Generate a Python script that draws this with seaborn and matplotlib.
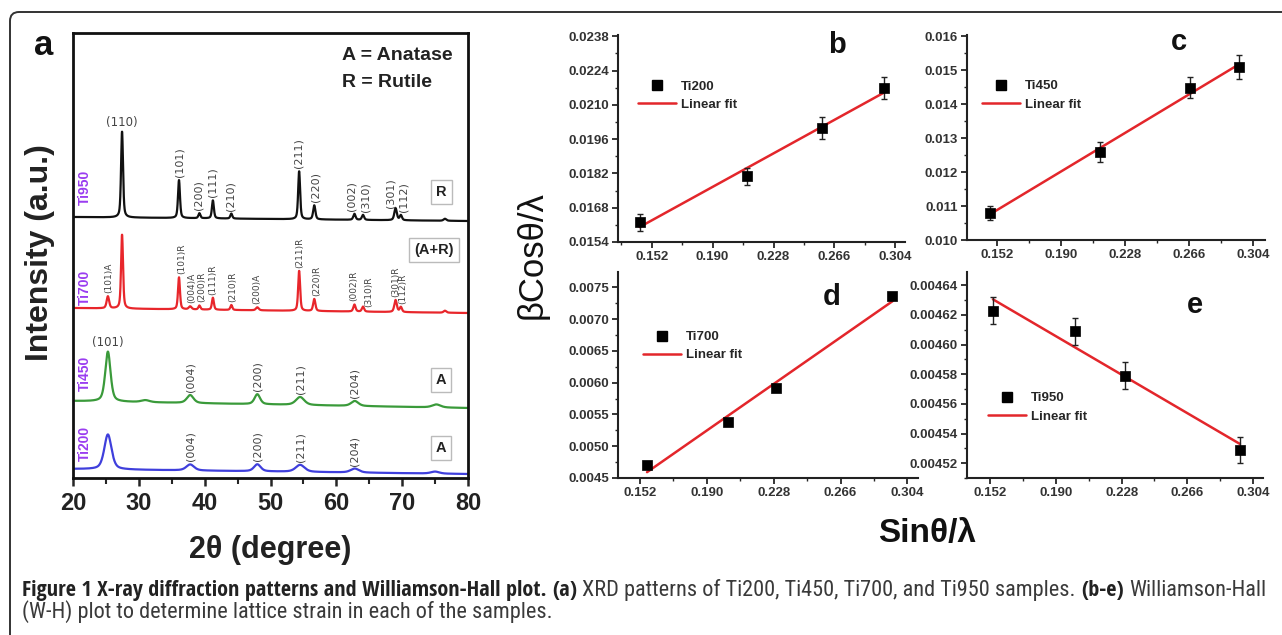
import numpy as np
import pandas as pd
import matplotlib
matplotlib.use("Agg")
import matplotlib.pyplot as plt
import seaborn as sns
from matplotlib.lines import Line2D
from matplotlib.patches import FancyBboxPatch
from matplotlib.ticker import MultipleLocator
from matplotlib import font_manager

# ------------------------------------------------------------------ data
# Panel a: XRD peak lists (2theta, height, FWHM)
samples = ["Ti200", "Ti450", "Ti700", "Ti950"]
sample_colors = ["#3f3fdc", "#3a9a3a", "#e8262b", "#111111"]
baseline_start = [9, 77, 170, 261]
baseline_end = [4, 70, 165, 257]

ti200_pos = [25.3, 37.8, 48.0, 54.5, 62.8, 75.0]
ti200_height = [35, 6, 7, 7, 4, 2]
ti200_width = [1.3, 1.4, 1.2, 1.6, 1.5, 1.5]

ti450_pos = [25.3, 31.0, 37.8, 48.0, 54.5, 62.8, 75.2]
ti450_height = [50, 2, 8, 10, 8, 5, 3]
ti450_width = [0.95, 1.5, 1.2, 1.0, 1.5, 1.3, 1.5]

ti700_pos = [25.3, 27.45, 36.1, 37.8, 39.2, 41.25, 44.05, 48.0, 54.35, 56.65, 62.75, 64.05, 69.0, 69.8, 76.5]
ti700_height = [12, 74, 32, 3, 4, 12, 5, 3, 40, 12, 7, 5, 12, 5, 2]
ti700_width = [0.45, 0.35, 0.35, 0.5, 0.35, 0.35, 0.35, 0.5, 0.35, 0.4, 0.4, 0.4, 0.45, 0.4, 0.5]

ti950_pos = [27.45, 36.1, 39.2, 41.25, 44.05, 54.35, 56.65, 62.75, 64.05, 69.0, 69.8, 76.5]
ti950_height = [86, 38, 5, 18, 5, 48, 14, 6, 5, 12, 5, 2]
ti950_width = [0.35, 0.35, 0.35, 0.35, 0.35, 0.35, 0.4, 0.4, 0.4, 0.45, 0.4, 0.5]

# peak annotations (x position, text, rotation)
ti950_lab_x = [27.4, 36.2, 39.0, 41.2, 44.0, 54.2, 56.8, 62.3, 64.4, 68.3, 70.2]
ti950_lab_t = ["(110)", "(101)", "(200)", "(111)", "(210)", "(211)", "(220)", "(002)", "(310)", "(301)", "(112)"]
ti950_lab_r = [0, 90, 90, 90, 90, 90, 90, 90, 90, 90, 90]

ti700_lab_x = [25.5, 36.5, 38.1, 39.6, 41.2, 44.2, 47.9, 54.5, 57.1, 62.6, 64.9, 69.0, 70.1]
ti700_lab_t = ["(101)A", "(101)R", "(004)A", "(200)R", "(111)R", "(210)R", "(200)A", "(211)R",
               "(220)R", "(002)R", "(310)R", "(301)R", "(112)R"]

ti450_lab_x = [25.3, 37.9, 48.1, 54.6, 62.8]
ti450_lab_t = ["(101)", "(004)", "(200)", "(211)", "(204)"]
ti450_lab_r = [0, 90, 90, 90, 90]

ti200_lab_x = [37.9, 48.1, 54.6, 62.8]
ti200_lab_t = ["(004)", "(200)", "(211)", "(204)"]

phase_text = ["A", "A", "(A+R)", "R"]
xrd_xticks = [20, 30, 40, 50, 60, 70, 80]

# Panels b-e: Williamson-Hall points
wh_names = ["Ti200", "Ti450", "Ti700", "Ti950"]
b_x = [0.1445, 0.2112, 0.2585, 0.2972]
b_y = [0.01621, 0.01808, 0.02007, 0.02169]
b_err = [0.00035, 0.00035, 0.00045, 0.00045]
c_x = [0.1478, 0.2132, 0.2666, 0.2957]
c_y = [0.01080, 0.01258, 0.01448, 0.01509]
c_err = [0.0002, 0.0003, 0.0003, 0.00035]
d_x = [0.1560, 0.2019, 0.2291, 0.2955]
d_y = [0.00470, 0.00538, 0.00591, 0.00736]
d_err = [0.00004, 0.00004, 0.00004, 0.00004]
e_x = [0.1537, 0.2011, 0.2300, 0.2964]
e_y = [0.004623, 0.004609, 0.004579, 0.004529]
e_err = [0.000009, 0.000009, 0.000009, 0.000009]

wh_xticks = [0.152, 0.190, 0.228, 0.266, 0.304]
wh_xticklabels = ["0.152", "0.190", "0.228", "0.266", "0.304"]
b_yticks = [0.0154, 0.0168, 0.0182, 0.0196, 0.0210, 0.0224, 0.0238]
c_yticks = [0.010, 0.011, 0.012, 0.013, 0.014, 0.015, 0.016]
d_yticks = [0.0045, 0.0050, 0.0055, 0.0060, 0.0065, 0.0070, 0.0075]
e_yticks = [0.00452, 0.00454, 0.00456, 0.00458, 0.00460, 0.00462, 0.00464]
b_yfmt, c_yfmt, d_yfmt, e_yfmt = "{:.4f}", "{:.3f}", "{:.4f}", "{:.5f}"

caption_title = "Figure 1 X-ray diffraction patterns and Williamson-Hall plot."
caption_a = "XRD patterns of Ti200, Ti450, Ti700, and Ti950 samples."
caption_be1 = "Williamson-Hall"
caption_be2 = "(W-H) plot to determine lattice strain in each of the samples."

# ------------------------------------------------------------------ style
sns.set_style("ticks")
plt.rcParams["font.family"] = ["Liberation Sans", "DejaVu Sans"]
plt.rcParams["axes.edgecolor"] = "#111111"

W, H, DPI = 1282, 635, 100
fig = plt.figure(figsize=(W / DPI, H / DPI), dpi=DPI)
fig.patch.set_facecolor("white")
RED = "#e3262b"
PURPLE = "#9a3cf0"


def px_rect(l, t, r, b):
    return [l / W, 1 - b / H, (r - l) / W, (b - t) / H]


def fx(px):
    return px / W


def fy(py):
    return 1 - py / H


# outer rounded frame
frame = FancyBboxPatch((0.10, -0.3), 13.2, 6.23 + 0.3,
                       boxstyle="round,pad=0,rounding_size=0.09",
                       transform=fig.dpi_scale_trans, fill=False,
                       ec="#333333", lw=1.4, zorder=0)
fig.patches.append(frame)

# ------------------------------------------------------------------ panel a
axa = fig.add_axes(px_rect(73, 33, 468, 478))
grid = np.linspace(20, 80, 3001)


def pattern(pos, hgt, wid, b0, b1):
    y = b0 + (b1 - b0) * (grid - 20) / 60.0
    for c, h, w in zip(pos, hgt, wid):
        d = (grid - c) / (w / 2.0)
        y = y + h * (0.5 / (1 + d ** 2) + 0.5 * np.exp(-np.log(2) * d ** 2))
    return y


peak_sets = [(ti200_pos, ti200_height, ti200_width),
             (ti450_pos, ti450_height, ti450_width),
             (ti700_pos, ti700_height, ti700_width),
             (ti950_pos, ti950_height, ti950_width)]
curves = {}
frames = []
for i, s in enumerate(samples):
    p, h, w = peak_sets[i]
    yy = pattern(p, h, w, baseline_start[i], baseline_end[i])
    curves[s] = yy
    frames.append(pd.DataFrame({"two_theta": grid, "intensity": yy, "sample": s}))
xrd = pd.concat(frames, ignore_index=True)
sns.lineplot(data=xrd, x="two_theta", y="intensity", hue="sample",
             palette=dict(zip(samples, sample_colors)), estimator=None,
             legend=False, lw=1.6, ax=axa)

axa.set_xlim(20, 80)
axa.set_ylim(0, 445)
axa.set_yticks([])
axa.set_xticks(xrd_xticks)
axa.xaxis.set_minor_locator(MultipleLocator(5))
axa.set_xticklabels([str(v) for v in xrd_xticks], fontsize=17, fontweight="bold", color="#222222")
axa.tick_params(axis="x", which="major", direction="out", length=6, width=1.8, pad=4)
axa.tick_params(axis="x", which="minor", direction="out", length=4, width=1.5)
for sp in axa.spines.values():
    sp.set_linewidth(2.0)
    sp.set_color("#111111")
axa.set_xlabel("")
axa.set_ylabel("")


def local_max(s, x, half=0.6):
    m = np.abs(grid - x) <= half
    return curves[s][m].max()


def annotate(s, xs, ts, rs, fs):
    for x, t, r in zip(xs, ts, rs):
        top = local_max(s, x)
        axa.text(x, top + 3, t, rotation=r, ha="center", va="bottom",
                 fontsize=fs + (0.5 if r == 0 else 0), color="#444444",
                 family=["DejaVu Sans"])


annotate("Ti950", ti950_lab_x, ti950_lab_t, ti950_lab_r, 8)
annotate("Ti700", ti700_lab_x, ti700_lab_t, [90] * len(ti700_lab_t), 6.5)
annotate("Ti450", ti450_lab_x, ti450_lab_t, ti450_lab_r, 8)
annotate("Ti200", ti200_lab_x, ti200_lab_t, [90] * len(ti200_lab_t), 8)

# sample names (rotated, purple) and phase boxes
name_y = [35, 105, 191, 291]
box_y = [30, 98, 228, 286]
box_x = [75.9, 75.9, 74.8, 76.0]
for i, s in enumerate(samples):
    axa.text(21.8, name_y[i], s, rotation=90, ha="center", va="center",
             fontsize=10, fontweight="bold", color=PURPLE)
    axa.text(box_x[i], box_y[i], phase_text[i], ha="center", va="center",
             fontsize=10.5, fontweight="bold", color="#222222",
             bbox=dict(boxstyle="square,pad=0.35", fc="white", ec="#bbbbbb", lw=1.0))

fig.text(fx(342), fy(60), "A = Anatase", fontsize=14, fontweight="bold",
         ha="left", va="baseline", color="#222222")
fig.text(fx(342), fy(87), "R = Rutile", fontsize=14, fontweight="bold",
         ha="left", va="baseline", color="#222222")
fig.text(fx(44), fy(55), "a", fontsize=25, fontweight="bold", ha="center",
         va="baseline", color="#111111")
fig.text(fx(40), fy(253), "Intensity (a.u.)", fontsize=23, fontweight="bold",
         rotation=90, ha="center", va="center", color="#222222")
fig.text(fx(270), fy(558), "2θ (degree)", fontsize=22, fontweight="bold",
         ha="center", va="baseline", color="#222222")

# ------------------------------------------------------------------ panels b-e
panel_specs = [
    dict(rect=(618, 35, 905, 242), x=b_x, y=b_y, err=b_err, name=wh_names[0],
         xlim=(0.131, 0.310), ylim=(0.0154, 0.02385), yticks=b_yticks, fmt=b_yfmt,
         yminor=0.0007, letter="b", lpos=(837, 53), leg=(0.07, 0.78)),
    dict(rect=(967, 35, 1265, 240), x=c_x, y=c_y, err=c_err, name=wh_names[1],
         xlim=(0.134, 0.311), ylim=(0.010, 0.01603), yticks=c_yticks, fmt=c_yfmt,
         yminor=0.0005, letter="c", lpos=(1179, 50), leg=(0.05, 0.78)),
    dict(rect=(618, 272, 918, 478), x=d_x, y=d_y, err=d_err, name=wh_names[2],
         xlim=(0.1395, 0.310), ylim=(0.0045, 0.00774), yticks=d_yticks, fmt=d_yfmt,
         yminor=0.00025, letter="d", lpos=(832, 305), leg=(0.083, 0.714)),
    dict(rect=(967, 272, 1263, 478), x=e_x, y=e_y, err=e_err, name=wh_names[3],
         xlim=(0.1387, 0.3097), ylim=(0.00451, 0.004649), yticks=e_yticks, fmt=e_yfmt,
         yminor=0.00001, letter="e", lpos=(1195, 313), leg=(0.071, 0.417)),
]

for sp_ in panel_specs:
    ax = fig.add_axes(px_rect(*sp_["rect"]))
    ax.set_facecolor("white")
    sns.regplot(x=np.array(sp_["x"]), y=np.array(sp_["y"]), ax=ax, scatter=False,
                ci=None, color=RED, line_kws={"lw": 1.8, "zorder": 2})
    ax.errorbar(sp_["x"], sp_["y"], yerr=sp_["err"], fmt="none", ecolor="#222222",
                elinewidth=1.0, capsize=2, capthick=1.0, zorder=3)
    sns.scatterplot(x=sp_["x"], y=sp_["y"], marker="s", color="black", s=55,
                    edgecolor="black", linewidth=0.5, ax=ax, zorder=4, legend=False)
    ax.set_xlim(*sp_["xlim"])
    ax.set_ylim(*sp_["ylim"])
    ax.set_xticks(wh_xticks)
    ax.set_xticklabels(wh_xticklabels)
    ax.xaxis.set_minor_locator(MultipleLocator(0.019))
    ax.set_yticks(sp_["yticks"])
    ax.set_yticklabels([sp_["fmt"].format(v) for v in sp_["yticks"]])
    ax.yaxis.set_minor_locator(MultipleLocator(sp_["yminor"]))
    ax.tick_params(which="major", direction="out", length=4, width=1.3,
                   labelsize=9.5, labelcolor="#333333", pad=2.5)
    ax.tick_params(which="minor", direction="out", length=2.5, width=1.0)
    for lab in ax.get_xticklabels() + ax.get_yticklabels():
        lab.set_fontweight("bold")
    sns.despine(ax=ax)
    for side in ["left", "bottom"]:
        ax.spines[side].set_linewidth(1.5)
        ax.spines[side].set_color("#222222")
    ax.set_xlabel("")
    ax.set_ylabel("")
    handles = [Line2D([], [], marker="s", ls="", color="black", ms=7),
               Line2D([], [], color=RED, lw=1.8)]
    ax.legend(handles, [sp_["name"], "Linear fit"], loc="upper left",
              bbox_to_anchor=sp_["leg"], frameon=False, borderpad=0,
              borderaxespad=0, handlelength=2.9, handletextpad=0.35,
              labelspacing=0.45, prop={"weight": "bold", "size": 9.5})
    fig.text(fx(sp_["lpos"][0]), fy(sp_["lpos"][1]), sp_["letter"], fontsize=21,
             fontweight="bold", ha="center", va="baseline", color="#111111")

fig.text(fx(532), fy(255), "βCosθ/λ", fontsize=25, rotation=90, ha="center",
         va="center", color="#111111")
fig.text(fx(878), fy(542), "Sinθ/λ", fontsize=24, fontweight="bold", ha="left",
         va="baseline", color="#111111")

# ------------------------------------------------------------------ caption
def weight_num(w):
    if isinstance(w, str):
        return font_manager.weight_dict.get(w, 400)
    return int(w)


cap_candidates = [("Open Sans Condensed", None), ("Roboto Condensed", None),
                  ("Liberation Sans Narrow", None), ("DejaVu Sans", "ondensed"),
                  ("Open Sans", None), ("Liberation Sans", None)]


def pick_face(bold):
    for fam, stretch in cap_candidates:
        for f in font_manager.fontManager.ttflist:
            if f.name != fam:
                continue
            if stretch is not None and stretch not in str(f.stretch):
                continue
            if "talic" in str(f.style) or "blique" in str(f.style):
                continue
            wn = weight_num(f.weight)
            if bold and wn >= 600:
                return fam, (str(f.stretch) if stretch else "normal"), wn
            if not bold and 300 <= wn <= 450:
                return fam, (str(f.stretch) if stretch else "normal"), wn
    return "DejaVu Sans", "normal", (700 if bold else 400)


faces = {"bold": pick_face(True), "normal": pick_face(False)}

line1 = [(caption_title, "bold"), ("(a)", "bold"), (caption_a, "normal"),
         ("(b-e)", "bold"), (caption_be1, "normal")]
line2 = [(caption_be2, "normal")]
renderer = fig.canvas.get_renderer()


def place(pieces, x0, ybase, fs):
    x = x0
    objs = []
    space = 0.24 * fs * DPI / 72.0
    for txt, wt in pieces:
        fam, stretch, wn = faces[wt]
        t = fig.text(fx(x), fy(ybase), txt, fontsize=fs, fontweight=wn,
                     family=[fam, "DejaVu Sans"], fontstretch=stretch,
                     color="#222222" if wt == "bold" else "#3a3a3a",
                     ha="left", va="baseline")
        bb = t.get_window_extent(renderer=renderer)
        x += bb.width + space
        objs.append(t)
    return x - space, objs


end, objs = place(line1, 22, 596, 12)
for o in objs:
    o.remove()
fs_cap = min(16.0, 12 * (1266 - 22) / (end - 22))
place(line1, 22, 596, fs_cap)
place(line2, 22, 618, fs_cap)

fig.savefig("out.png", dpi=DPI, facecolor="white")
